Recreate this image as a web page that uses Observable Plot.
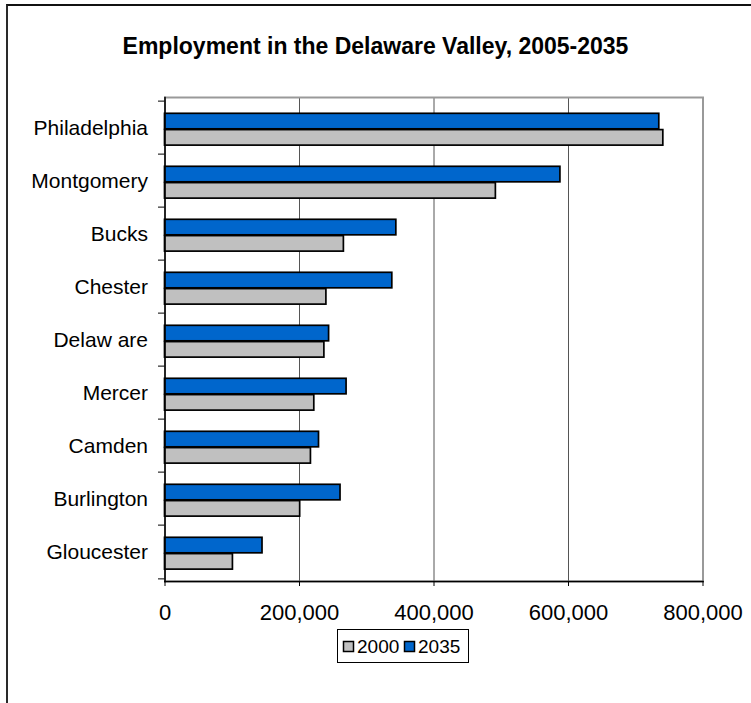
<!DOCTYPE html>
<html><head><meta charset="utf-8">
<script src="https://cdn.jsdelivr.net/npm/d3@7"></script>
<script src="https://cdn.jsdelivr.net/npm/@observablehq/plot@0.6"></script>
<style>
body{margin:0;background:#fff;}
#wrap{position:relative;width:751px;height:703px;overflow:hidden;font-family:"Liberation Sans",Arial,sans-serif;background:#fff;}
#border{position:absolute;left:6px;top:4px;width:900px;height:900px;border-left:2px solid #2a2a2a;border-top:2px solid #111;}
#wrap svg{position:absolute;left:0;top:0;}
</style></head><body><div id="wrap"><div id="border"></div></div>
<script>
const title = "Employment in the Delaware Valley, 2005-2035";
const counties = ["Philadelphia","Montgomery","Bucks","Chester","Delaw are","Mercer","Camden","Burlington","Gloucester"];
const series = ["2000","2035"];
const values2000 = [741000, 492000, 266000, 240000, 237000, 222000, 217000, 201000, 101000];
const values2035 = [735000, 588000, 344000, 338000, 244000, 270000, 229000, 261000, 145000];
const xTicks = [0, 200000, 400000, 600000, 800000];
const colors = ["#C0C0C0", "#0066CC"];

const rows = counties.flatMap((c, i) => [
  {county: c, series: "2000", value: values2000[i]},
  {county: c, series: "2035", value: values2035[i]}
]);

const W = 751, H = 703, mt = 97, mb = 122, ml = 164.5, mr = 48.5;
const band = (H - mt - mb) / counties.length;
const barH = 16.3, gapTop = 12.3;
const fmt = d3.format(",");
const font = "'Liberation Sans', Arial, sans-serif";

const chart = Plot.plot({
  width: W, height: H,
  marginTop: mt, marginBottom: mb, marginLeft: ml, marginRight: mr,
  style: {fontFamily: font, fontSize: "20px", color: "#000", background: "transparent", overflow: "visible"},
  x: {domain: [0, 800000], label: null},
  y: {domain: counties, padding: 0, label: null},
  color: {domain: series, range: colors},
  marks: [
    Plot.gridX(xTicks.slice(1, -1), {stroke: "#555", strokeOpacity: 1, strokeWidth: 1}),
    Plot.frame({stroke: "#999", strokeWidth: 2}),
    Plot.barX(rows, {
      filter: d => d.series === "2035",
      x: "value", y: "county", fill: "series",
      stroke: "#000", strokeWidth: 1.7,
      insetTop: gapTop, insetBottom: band - gapTop - barH
    }),
    Plot.barX(rows, {
      filter: d => d.series === "2000",
      x: "value", y: "county", fill: "series",
      stroke: "#000", strokeWidth: 1.7,
      insetTop: gapTop + barH, insetBottom: band - gapTop - 2 * barH
    }),
    Plot.frame({anchor: "left", stroke: "#000", strokeWidth: 1.5}),
    Plot.frame({anchor: "bottom", stroke: "#000", strokeWidth: 1.5}),
    Plot.axisX({ticks: xTicks, tickSize: 5, tickPadding: 18, tickFormat: fmt, fontSize: 22, label: null, stroke: "#000"}),
    Plot.axisY({tickSize: 0, tickPadding: 17, fontSize: 21, label: null}),
    Plot.axisY({tickSize: 6.5, dy: -band / 2, tickFormat: () => "", label: null, stroke: "#000"}),
    Plot.axisY([counties[counties.length - 1]], {tickSize: 6.5, dy: band / 2, tickFormat: () => "", label: null, stroke: "#000"})
  ]
});

const svg = d3.select(chart);
svg.append("text")
  .attr("x", 375.5).attr("y", 54)
  .attr("text-anchor", "middle")
  .style("font-family", font).style("font-size", "23px").style("font-weight", "bold")
  .attr("fill", "#000")
  .text(title);

const lg = svg.append("g");
lg.append("rect").attr("x", 337.5).attr("y", 629.5).attr("width", 131).attr("height", 33)
  .attr("fill", "#fff").attr("stroke", "#000").attr("stroke-width", 1);
const sw = [343.5, 404.5], tx = [357, 418];
series.forEach((s, i) => {
  lg.append("rect").attr("x", sw[i]).attr("y", 641.5).attr("width", 10).attr("height", 10)
    .attr("fill", colors[i]).attr("stroke", "#000").attr("stroke-width", 1.5);
  lg.append("text").attr("x", tx[i]).attr("y", 653)
    .attr("text-anchor", "start")
    .style("font-family", font).style("font-size", "19px").attr("fill", "#000").text(s);
});

document.getElementById("wrap").appendChild(chart);
</script>
</body></html>
